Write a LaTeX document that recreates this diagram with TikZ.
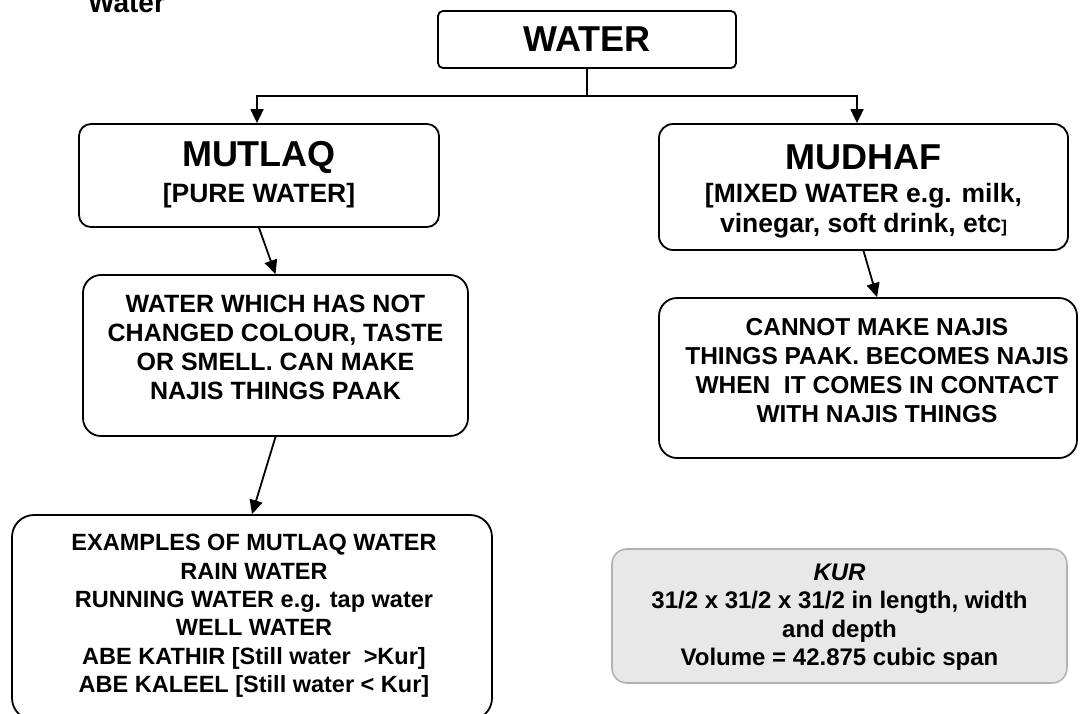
\documentclass[tikz,border=0pt]{standalone}
\usepackage{fontspec}
\setmainfont{Liberation Sans}
\usetikzlibrary{arrows.meta}
\begin{document}
\begin{tikzpicture}[x=1pt,y=-1pt,
  box/.style={draw, line width=1.8pt, rounded corners=#1, inner sep=0pt},
  kurbox/.style={draw=black!30, fill=black!9, line width=1.6pt, rounded corners=#1, inner sep=0pt},
  txt/.style={align=center, inner sep=0pt},
  title/.style={inner sep=0pt, font=\bfseries\fontsize{36}{40}\selectfont},
  sub/.style={txt, font=\bfseries\fontsize{26.5}{30}\selectfont},
  conn/.style={line width=1.8pt},
  arr/.style={line width=1.8pt, -{Triangle[length=14pt,width=13pt]}}]
\useasboundingbox (0,0) rectangle (1089,713);
\clip (0,0) rectangle (1089,713);

% cut-off heading
\node[anchor=base west, inner sep=0pt, font=\bfseries\fontsize{28}{30}\selectfont] (heading) at (88,12) {Water};

% boxes
\node[box=5, minimum width=298pt, minimum height=57pt, font=\bfseries\fontsize{36}{40}\selectfont] (water) at (587,39.5) {WATER};
\node[box=12, minimum width=360pt, minimum height=103pt] (mutlaq) at (259,175.5) {};
\node[box=14, minimum width=409pt, minimum height=126pt] (mudhaf) at (863.5,187) {};
\node[box=18, minimum width=385pt, minimum height=161pt] (pure) at (275.5,355.5) {};
\node[box=18, minimum width=418pt, minimum height=160pt] (mixed) at (868,378) {};
\node[box=22, minimum width=480pt, minimum height=205pt] (examples) at (252,617.5) {};
\node[kurbox=15, minimum width=455pt, minimum height=134pt] (kur) at (839.5,616) {};

% texts
\node[title] (mutlaqtitle) at (259,157) {MUTLAQ};
\node[sub] (mutlaqsub) at (259,196) {[PURE WATER]};
\node[title] (mudhaftitle) at (863.5,157) {MUDHAF};
\node[sub] (mudhafsub) at (863.5,211) {[MIXED WATER e.g. milk,\\vinegar, soft drink, etc{\fontsize{17}{17}\selectfont]}};
\node[txt, font=\bfseries\fontsize{25}{29}\selectfont] (puretext) at (275.5,347)
  {WATER WHICH HAS NOT\\CHANGED COLOUR, TASTE\\OR SMELL. CAN MAKE\\NAJIS THINGS PAAK};
\node[txt, font=\bfseries\fontsize{24.5}{29}\selectfont] (mixedtext) at (877,371)
  {CANNOT MAKE NAJIS\\THINGS PAAK. BECOMES NAJIS\\WHEN\ \ IT COMES IN CONTACT\\WITH NAJIS THINGS};
\node[txt, font=\bfseries\fontsize{23.5}{28.4}\selectfont] (examplestext) at (254,616)
  {EXAMPLES OF MUTLAQ WATER\\RAIN WATER\\RUNNING WATER e.g. tap water\\WELL WATER\\ABE KATHIR [Still water\ \ >Kur]\\ABE KALEEL [Still water < Kur]};
\node[txt, font=\bfseries\fontsize{24}{28.5}\selectfont] (kurtext) at (839.5,617)
  {\textit{KUR}\\31/2 x 31/2 x 31/2 in length, width\\and depth\\Volume = 42.875 cubic span};

% connectors
\coordinate (split) at (587,96);
\draw[conn] (water.south) -- (split);
\draw[arr] (split) -| ([xshift=-2pt]mutlaq.north);
\draw[arr] (split) -| ([xshift=-6.5pt]mudhaf.north);
\draw[arr] (mutlaq.south) -- (pure.north);
\draw[arr] (pure.south) -- (examples.north);
\draw[arr] (mudhaf.south) -- ([xshift=9pt]mixed.north);
\end{tikzpicture}
\end{document}
